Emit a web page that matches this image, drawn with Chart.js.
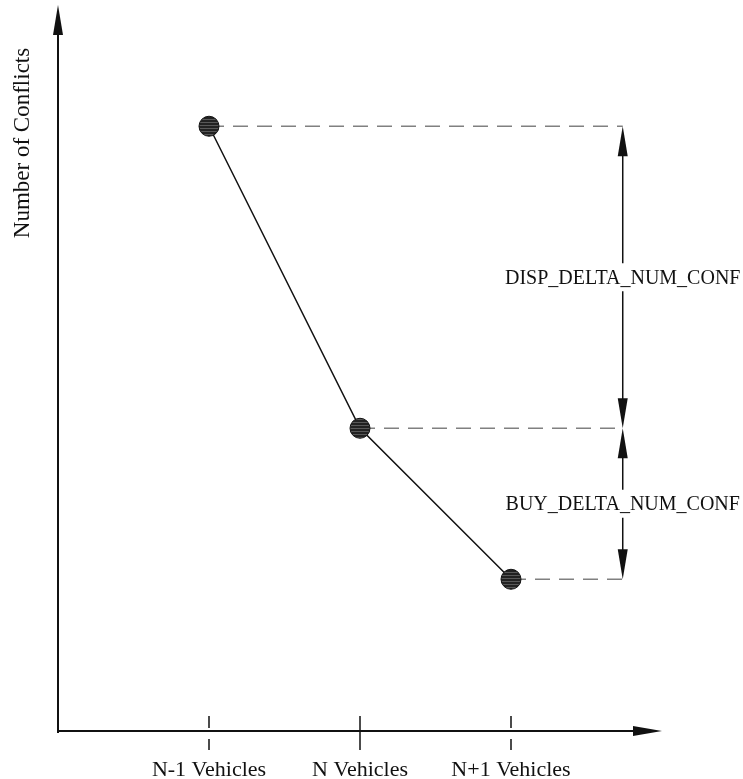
<!DOCTYPE html>
<html>
<head>
<meta charset="utf-8">
<script src="https://cdn.jsdelivr.net/npm/chart.js@4/dist/chart.umd.min.js"></script>
<style>
  html, body { margin: 0; padding: 0; background: #fff; }
  #wrap { width: 743px; height: 779px; }
</style>
</head>
<body>
<div id="wrap"><canvas id="conflictsChart"></canvas></div>
<script>
// categories on the x axis and the conflict counts (arbitrary units, no ticks shown)
const categories = ['N-1 Vehicles', 'N Vehicles', 'N+1 Vehicles'];
const conflicts = [83.3, 41.7, 20.9];
const yTitle = 'Number of Conflicts';
// dimension labels: [label, from index, to index]
const dimLabels = ['DISP_DELTA_NUM_CONF', 'BUY_DELTA_NUM_CONF'];
const dimFrom = [0, 1];
const dimTo = [1, 2];

const SERIF = '"Liberation Serif", "DejaVu Serif", serif';
const DIM_X = 2.74; // where the dimension arrows stand, in x units

// hatched fill for the markers
function hatch() {
  const c = document.createElement('canvas');
  c.width = 4; c.height = 3;
  const g = c.getContext('2d');
  g.fillStyle = '#222';
  g.fillRect(0, 0, 4, 3);
  g.fillStyle = '#585858';
  g.fillRect(0, 2, 4, 1);
  return g.createPattern(c, 'repeat');
}

function arrowHead(ctx, x, y, dir, len, half) {
  // dir: 'up' | 'down' | 'right'
  ctx.beginPath();
  if (dir === 'up') {
    ctx.moveTo(x, y); ctx.lineTo(x - half, y + len); ctx.lineTo(x + half, y + len);
  } else if (dir === 'down') {
    ctx.moveTo(x, y); ctx.lineTo(x - half, y - len); ctx.lineTo(x + half, y - len);
  } else {
    ctx.moveTo(x, y); ctx.lineTo(x - len, y - half); ctx.lineTo(x - len, y + half);
  }
  ctx.closePath();
  ctx.fill();
}

const decor = {
  id: 'decor',
  beforeDatasetsDraw(chart) {
    const ctx = chart.ctx;
    const xs = chart.scales.x, ys = chart.scales.y;
    const area = chart.chartArea;
    ctx.save();
    // dashed guide lines from each point to the dimension arrows
    ctx.strokeStyle = '#808080';
    ctx.lineWidth = 1.5;
    ctx.setLineDash([15, 9]);
    const ax = xs.getPixelForValue(DIM_X);
    conflicts.forEach((v, i) => {
      const y = ys.getPixelForValue(v);
      ctx.beginPath();
      ctx.moveTo(xs.getPixelForValue(i), y);
      ctx.lineTo(ax, y);
      ctx.stroke();
    });
    ctx.setLineDash([]);

    // axes with arrows
    ctx.strokeStyle = '#111';
    ctx.fillStyle = '#111';
    ctx.lineWidth = 2;
    ctx.beginPath();
    ctx.moveTo(area.left, area.bottom + 2);
    ctx.lineTo(area.left, area.top + 20);
    ctx.moveTo(area.left - 1, area.bottom);
    ctx.lineTo(area.right - 20, area.bottom);
    ctx.stroke();
    arrowHead(ctx, area.left, area.top, 'up', 30, 5);
    arrowHead(ctx, area.right, area.bottom, 'right', 29, 5);

    // category tick marks
    ctx.lineWidth = 1.5;
    categories.forEach((c, i) => {
      const x = xs.getPixelForValue(i);
      ctx.beginPath();
      if (i === 1) {
        ctx.moveTo(x, area.bottom - 15); ctx.lineTo(x, area.bottom + 19);
      } else {
        ctx.moveTo(x, area.bottom - 15); ctx.lineTo(x, area.bottom - 3);
        ctx.moveTo(x, area.bottom + 8); ctx.lineTo(x, area.bottom + 19);
      }
      ctx.stroke();
    });

    // y title
    ctx.save();
    ctx.translate(23, 143);
    ctx.rotate(-Math.PI / 2);
    ctx.font = '23px ' + SERIF;
    ctx.textAlign = 'center';
    ctx.textBaseline = 'middle';
    ctx.fillStyle = '#111';
    ctx.fillText(yTitle, 0, 0);
    ctx.restore();

    // dimension arrows with labels
    ctx.font = '20px ' + SERIF;
    ctx.textAlign = 'center';
    ctx.textBaseline = 'middle';
    dimLabels.forEach((lab, k) => {
      const y1 = ys.getPixelForValue(conflicts[dimFrom[k]]);
      const y2 = ys.getPixelForValue(conflicts[dimTo[k]]);
      const ym = (y1 + y2) / 2;
      ctx.lineWidth = 1.5;
      ctx.beginPath();
      ctx.moveTo(ax, y1 + 20); ctx.lineTo(ax, ym - 14);
      ctx.moveTo(ax, ym + 14); ctx.lineTo(ax, y2 - 20);
      ctx.stroke();
      arrowHead(ctx, ax, y1, 'up', 30, 5);
      arrowHead(ctx, ax, y2, 'down', 30, 5);
      ctx.fillText(lab, ax, ym + 1);
    });
    ctx.restore();
  }
};

new Chart(document.getElementById('conflictsChart'), {
  type: 'line',
  data: {
    datasets: [{
      data: conflicts.map((v, i) => ({ x: i, y: v })),
      borderColor: '#111',
      borderWidth: 1.5,
      tension: 0,
      pointRadius: 10,
      pointBackgroundColor: hatch(),
      pointBorderColor: '#111',
      pointBorderWidth: 1,
      clip: false
    }]
  },
  options: {
    responsive: true,
    maintainAspectRatio: false,
    animation: false,
    events: [],
    layout: { autoPadding: false, padding: { left: 58, top: 5, right: 81, bottom: 0 } },
    plugins: { legend: { display: false }, tooltip: { enabled: false } },
    scales: {
      x: {
        type: 'linear',
        min: -1,
        max: 3,
        afterBuildTicks: (scale) => { scale.ticks = categories.map((c, i) => ({ value: i })); },
        afterFit: (scale) => { scale.height = 48; },
        grid: { display: false, drawTicks: false },
        border: { display: false },
        ticks: {
          padding: 26,
          maxRotation: 0,
          autoSkip: false,
          color: '#111',
          font: { family: SERIF, size: 22 },
          callback: (v) => categories[v]
        }
      },
      y: {
        display: false,
        min: 0,
        max: 100
      }
    }
  },
  plugins: [decor]
});
</script>
</body>
</html>
